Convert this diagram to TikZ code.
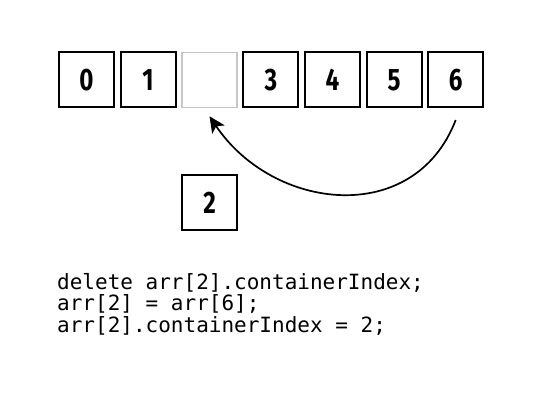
\documentclass[tikz,border=0pt]{standalone}
\usepackage{fontspec}
\usetikzlibrary{positioning,arrows.meta}
\newfontfamily\cellfont[FakeStretch=0.78]{Fira Sans}
\newfontfamily\codefont{DejaVu Sans Mono}

\begin{document}
\begin{tikzpicture}[x=1pt,y=1pt,
		cell/.style={draw, line width=2pt, minimum size=55pt, inner sep=0pt,
			font=\cellfont\bfseries\fontsize{31pt}{31pt}\selectfont},
		emptycell/.style={cell, draw=black!22, line width=1.6pt},
		code/.style={anchor=base west, inner sep=0pt,
			font=\codefont\fontsize{21pt}{21pt}\selectfont},
		node distance=4.6pt]
			\useasboundingbox (0,0) rectangle (546,410);

			% the array
			\node [cell] (b0) at (86.5,330) {0};
			\node [cell, right=of b0] (b1) {1};
			\node [emptycell, right=of b1] (b2) {};
			\node [cell, right=of b2] (b3) {3};
			\node [cell, right=of b3] (b4) {4};
			\node [cell, right=of b4] (b5) {5};
			\node [cell, right=of b5] (b6) {6};

			% the removed element
			\node [cell, below=66pt of b2] (moved) {2};

			\draw [line width=1.7pt, -{Stealth[length=16pt, width=15pt, inset=4pt]}]
				([yshift=-11.5pt]b6.south) to [out=249, in=304, looseness=1.19] ([yshift=-8pt]b2.south);

			% the code
			\node [code] (code1) at (57,121) {delete arr[2].containerIndex;};
			\node [code] (code2) at (57,100) {arr[2] = arr[6];};
			\node [code] (code3) at (57,78) {arr[2].containerIndex = 2;};
		\end{tikzpicture}
\end{document}
